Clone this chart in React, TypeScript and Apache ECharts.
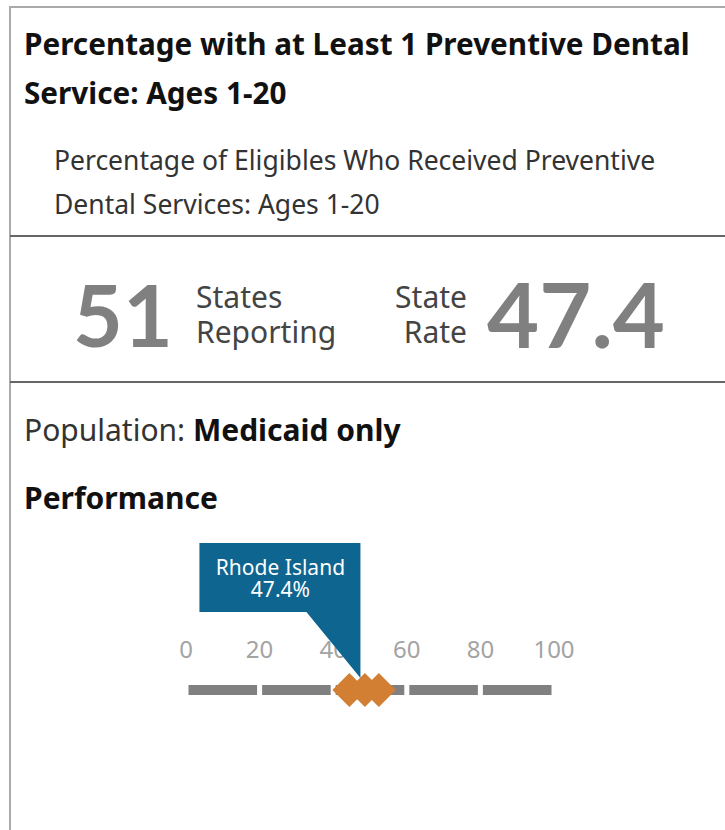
import React, { useEffect, useRef } from "react";
import * as echarts from "echarts";

const titleLines = ["Percentage with at Least 1 Preventive Dental", "Service: Ages 1-20"];
const subtitleLines = ["Percentage of Eligibles Who Received Preventive", "Dental Services: Ages 1-20"];
const statesReporting = "51";
const stateRate = "47.4";
const population = "Medicaid only";
const segments: [number, number][] = [[0, 20], [20, 40], [40, 60], [60, 80], [80, 100]];
const diamondValues = [44.4, 48.6, 52.4];
const calloutState = "Rhode Island";
const calloutValue = 47.4;
const axisTicks = [0, 20, 40, 60, 80, 100];

const FONT = "'Noto Sans', 'Open Sans', sans-serif";
const NUMFONT = "Lato, 'Noto Sans', sans-serif";

export default function App() {
  const ref = useRef<HTMLDivElement>(null);
  useEffect(() => {
    if (!ref.current) return;
    const chart = echarts.init(ref.current, null, { renderer: "svg" });
    const gray = "#808080";
    const txt = (x: number, y: number, text: string, font: string, fill: string, align = "left", lineHeight?: number) => ({
      type: "text",
      style: { x, y, text, font, fill, align, verticalAlign: "middle", lineHeight },
    });
    const option: any = {
      animation: false,
      backgroundColor: "#ffffff",
      textStyle: { fontFamily: FONT },
      grid: { left: 186, right: 171, top: 670, height: 40 },
      xAxis: {
        type: "value",
        min: 0,
        max: 100,
        interval: 20,
        position: "top",
        axisLine: { show: false },
        axisTick: { show: false },
        splitLine: { show: false },
        axisLabel: {
          color: "#a3a3a3",
          fontSize: 24,
          fontFamily: FONT,
          margin: 10,
          customValues: axisTicks,
        },
      },
      yAxis: { type: "value", min: 0, max: 1, show: false },
      series: [
        {
          type: "custom",
          z: 1,
          data: segments,
          renderItem: (params: any, api: any) => {
            const a = api.coord([api.value(0), 0.5]);
            const b = api.coord([api.value(1), 0.5]);
            const gap = 2.5;
            return {
              type: "rect",
              shape: { x: a[0] + gap, y: a[1] - 5, width: b[0] - a[0] - 2 * gap, height: 10 },
              style: { fill: gray },
            };
          },
        },
        {
          type: "scatter",
          z: 3,
          symbol: "diamond",
          symbolSize: [34, 34],
          itemStyle: { color: "#d27f34", opacity: 1 },
          data: diamondValues.map((v) => [v, 0.5]),
        },
        {
          type: "custom",
          z: 5,
          data: [[calloutValue, 0.5]],
          renderItem: (params: any, api: any) => {
            const p = api.coord([api.value(0), api.value(1)]);
            const tx = p[0];
            const ty = p[1] - 12;
            return {
              type: "group",
              children: [
                {
                  type: "polygon",
                  shape: {
                    points: [
                      [tx - 161, ty - 135],
                      [tx, ty - 135],
                      [tx, ty],
                      [tx - 54, ty - 66],
                      [tx - 161, ty - 66],
                    ],
                  },
                  style: { fill: "#0e6590" },
                },
                {
                  type: "text",
                  style: {
                    x: tx - 80,
                    y: ty - 100,
                    text: calloutState + "\n" + calloutValue.toFixed(1) + "%",
                    fill: "#ffffff",
                    font: `21px ${FONT}`,
                    lineHeight: 22,
                    align: "center",
                    verticalAlign: "middle",
                  },
                },
              ],
            };
          },
        },
      ],
      graphic: [
        { type: "line", shape: { x1: 10, y1: 7, x2: 725, y2: 7 }, style: { stroke: "#aaaaaa", lineWidth: 2 } },
        { type: "line", shape: { x1: 10, y1: 6, x2: 10, y2: 830 }, style: { stroke: "#aaaaaa", lineWidth: 2 } },
        { type: "line", shape: { x1: 10, y1: 236, x2: 725, y2: 236 }, style: { stroke: "#666666", lineWidth: 2 } },
        { type: "line", shape: { x1: 10, y1: 382, x2: 725, y2: 382 }, style: { stroke: "#666666", lineWidth: 2 } },
        ...titleLines.map((t, i) => txt(24, 43 + i * 49, t, `bold 29.7px ${FONT}`, "#111111")),
        ...subtitleLines.map((t, i) => txt(54, 160 + i * 44, t, `26.5px ${FONT}`, "#333333")),
        txt(73, 313, statesReporting, `bold 86px ${NUMFONT}`, gray),
        txt(196, 314, "States\nReporting", `30px ${FONT}`, "#444444", "left", 35),
        txt(467, 314, "State\nRate", `30px ${FONT}`, "#444444", "right", 35),
        txt(487, 313, stateRate, `bold 90px ${NUMFONT}`, gray),
        {
          type: "text",
          style: {
            x: 24,
            y: 429,
            verticalAlign: "middle",
            text: "{n|Population: }{b|" + population + "}",
            rich: {
              n: { fill: "#333333", font: `30px ${FONT}` },
              b: { fill: "#111111", font: `bold 30px ${FONT}` },
            },
          },
        },
        txt(24, 497, "Performance", `bold 30px ${FONT}`, "#111111"),
      ],
    };
    chart.setOption(option);
    return () => chart.dispose();
  }, []);
  return (
    <div
      ref={ref}
      style={{ position: "fixed", left: 0, top: 0, width: 725, height: 830, background: "#fff" }}
    />
  );
}
